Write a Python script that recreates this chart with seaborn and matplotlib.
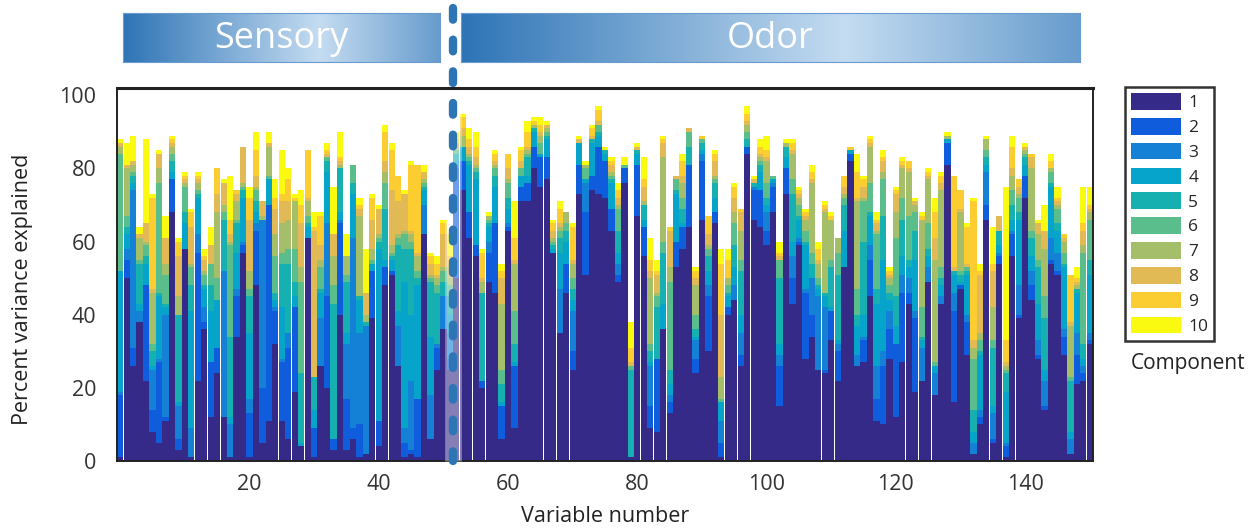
import numpy as np
import pandas as pd
import matplotlib
matplotlib.use("Agg")
import matplotlib.pyplot as plt
import matplotlib.transforms as mtransforms
from matplotlib.patches import Patch
from matplotlib.colors import LinearSegmentedColormap
import seaborn as sns

# variable numbers 0..150, first 52 are sensory, rest odor
variables = list(range(151))
n_sensory = 52

# cumulative percent variance explained after components 1..k
cum_1 = [1, 50, 26, 38, 22, 8, 5, 11, 68, 3,
         58, 1, 22, 36, 12, 24, 12, 1, 34, 57,
         1, 48, 5, 11, 32, 11, 6, 19, 4, 61,
         1, 26, 20, 3, 40, 3, 6, 1, 2, 39,
         4, 48, 51, 26, 1, 2, 1, 62, 6, 25,
         36, 25, 50, 74, 61, 56, 20, 49, 46, 6,
         63, 9, 71, 71, 80, 75, 77, 57, 35, 46,
         25, 73, 51, 74, 73, 72, 63, 49, 76, 1,
         67, 56, 9, 8, 36, 13, 53, 58, 64, 24,
         66, 30, 65, 1, 40, 44, 26, 84, 66, 64,
         59, 68, 15, 73, 43, 59, 28, 34, 25, 24,
         33, 22, 53, 82, 26, 27, 45, 11, 10, 28,
         12, 27, 43, 19, 22, 49, 18, 43, 81, 16,
         47, 29, 2, 10, 66, 5, 54, 1, 56, 39,
         72, 44, 28, 14, 54, 51, 29, 2, 21, 22, 32]
cum_2 = [18, 55, 31, 38, 48, 14, 27, 12, 77, 6,
         58, 1, 57, 38, 27, 31, 12, 1, 45, 59,
         13, 63, 20, 70, 41, 27, 31, 42, 4, 61,
         9, 26, 45, 6, 65, 17, 9, 10, 2, 52,
         11, 53, 52, 26, 5, 3, 17, 62, 6, 31,
         36, 28, 80, 82, 68, 59, 22, 57, 65, 15,
         64, 26, 75, 76, 86, 83, 83, 57, 35, 54,
         30, 81, 68, 78, 86, 82, 69, 51, 80, 1,
         81, 64, 15, 28, 36, 16, 60, 64, 81, 28,
         82, 45, 68, 5, 42, 44, 29, 86, 74, 74,
         63, 75, 26, 80, 50, 60, 46, 40, 25, 25,
         41, 30, 53, 84, 26, 33, 55, 17, 26, 36,
         32, 46, 46, 39, 22, 49, 18, 43, 87, 41,
         48, 38, 2, 12, 70, 6, 56, 4, 62, 40,
         78, 48, 29, 15, 55, 52, 34, 2, 29, 24, 33]
cum_3 = [19, 58, 74, 41, 48, 25, 28, 40, 77, 15,
         58, 9, 62, 42, 27, 31, 52, 10, 47, 60,
         17, 65, 66, 70, 42, 28, 35, 42, 4, 61,
         9, 39, 65, 6, 66, 32, 61, 35, 37, 52,
         11, 53, 52, 37, 9, 22, 17, 70, 18, 32,
         45, 35, 81, 82, 68, 59, 22, 60, 65, 15,
         65, 26, 75, 76, 86, 83, 83, 57, 47, 54,
         41, 81, 76, 78, 86, 82, 69, 54, 80, 1,
         81, 64, 26, 28, 36, 18, 60, 64, 81, 33,
         84, 48, 68, 11, 42, 48, 35, 86, 75, 74,
         68, 76, 29, 80, 56, 61, 47, 50, 45, 42,
         41, 32, 53, 84, 29, 34, 59, 26, 30, 41,
         32, 51, 50, 41, 31, 53, 24, 45, 87, 46,
         48, 40, 5, 14, 79, 13, 57, 5, 63, 48,
         78, 52, 33, 22, 61, 57, 36, 6, 35, 26, 35]
cum_4 = [52, 62, 76, 43, 54, 26, 45, 42, 79, 16,
         65, 41, 72, 47, 41, 44, 52, 12, 57, 72,
         35, 68, 66, 77, 44, 42, 35, 45, 5, 64,
         14, 46, 79, 6, 68, 35, 73, 44, 37, 54,
         58, 55, 55, 41, 49, 40, 48, 74, 34, 32,
         45, 40, 82, 86, 81, 77, 22, 64, 75, 16,
         69, 27, 78, 78, 90, 84, 88, 58, 57, 60,
         44, 87, 77, 87, 89, 84, 76, 57, 80, 1,
         84, 66, 27, 28, 43, 21, 73, 65, 81, 34,
         85, 52, 72, 16, 45, 53, 40, 86, 75, 79,
         70, 77, 32, 83, 60, 66, 59, 50, 47, 45,
         42, 33, 63, 85, 37, 40, 67, 43, 55, 44,
         37, 56, 53, 55, 33, 56, 26, 48, 88, 51,
         49, 51, 8, 29, 81, 15, 59, 19, 66, 66,
         81, 56, 43, 25, 75, 63, 53, 8, 46, 28, 51]
cum_5 = [52, 64, 78, 54, 56, 30, 46, 43, 82, 40,
         68, 48, 73, 48, 48, 44, 66, 34, 65, 74,
         45, 71, 66, 77, 46, 54, 54, 49, 24, 65,
         23, 47, 82, 43, 80, 49, 76, 45, 38, 54,
         60, 69, 56, 59, 58, 58, 50, 75, 49, 46,
         49, 45, 84, 86, 82, 79, 46, 65, 78, 21,
         72, 32, 78, 83, 91, 84, 89, 59, 61, 63,
         47, 87, 77, 88, 90, 85, 77, 63, 80, 25,
         85, 70, 30, 42, 57, 25, 74, 69, 86, 36,
         87, 56, 76, 16, 46, 59, 52, 88, 76, 81,
         72, 77, 50, 86, 73, 67, 60, 54, 48, 46,
         53, 51, 70, 85, 40, 60, 68, 47, 67, 46,
         45, 66, 55, 63, 34, 58, 26, 50, 88, 52,
         51, 52, 14, 30, 83, 31, 63, 24, 70, 68,
         83, 61, 53, 39, 76, 65, 54, 22, 47, 32, 55]
cum_6 = [84, 67, 79, 55, 59, 32, 76, 51, 84, 40,
         75, 53, 74, 51, 54, 50, 68, 59, 66, 75,
         47, 74, 66, 78, 56, 57, 58, 58, 49, 67,
         23, 53, 83, 48, 80, 51, 81, 45, 38, 55,
         61, 76, 57, 61, 62, 60, 52, 76, 50, 48,
         52, 48, 85, 86, 83, 80, 46, 66, 80, 25,
         76, 41, 80, 84, 91, 87, 90, 60, 63, 65,
         50, 87, 80, 88, 92, 85, 78, 69, 81, 26,
         85, 70, 32, 45, 60, 49, 77, 72, 90, 40,
         88, 58, 77, 17, 48, 65, 55, 90, 76, 82,
         76, 78, 55, 86, 77, 70, 63, 57, 50, 46,
         55, 57, 72, 85, 47, 71, 76, 62, 77, 48,
         61, 72, 67, 68, 42, 65, 27, 53, 88, 52,
         52, 53, 28, 33, 85, 33, 63, 25, 74, 72,
         84, 63, 55, 45, 79, 69, 57, 23, 47, 57, 66]
cum_7 = [86, 80, 81, 61, 60, 46, 80, 54, 86, 45,
         76, 54, 76, 52, 54, 68, 70, 60, 71, 76,
         52, 75, 67, 86, 62, 65, 66, 71, 53, 71,
         23, 55, 83, 56, 81, 56, 81, 67, 40, 58,
         62, 79, 59, 62, 63, 62, 56, 77, 51, 50,
         53, 50, 86, 89, 84, 81, 49, 67, 81, 43,
         77, 54, 80, 85, 92, 89, 91, 61, 64, 68,
         54, 87, 81, 88, 92, 85, 79, 70, 81, 26,
         85, 71, 50, 46, 83, 53, 77, 76, 90, 48,
         88, 59, 78, 23, 50, 68, 63, 92, 76, 83,
         82, 78, 55, 87, 84, 72, 66, 76, 54, 68,
         66, 61, 73, 85, 71, 72, 86, 63, 79, 50,
         68, 80, 79, 70, 66, 77, 55, 74, 89, 52,
         68, 53, 31, 35, 88, 42, 63, 26, 78, 73,
         85, 80, 62, 58, 80, 70, 60, 37, 48, 59, 68]
cum_8 = [87, 81, 82, 62, 65, 47, 84, 61, 87, 56,
         77, 64, 77, 55, 59, 73, 76, 62, 73, 86,
         66, 78, 71, 87, 69, 71, 71, 71, 65, 72,
         63, 59, 84, 62, 82, 56, 81, 69, 46, 66,
         69, 82, 74, 71, 73, 63, 57, 79, 54, 51,
         62, 53, 87, 91, 86, 83, 50, 67, 82, 50,
         80, 55, 82, 86, 92, 90, 92, 63, 65, 68,
         55, 88, 81, 89, 93, 85, 81, 72, 81, 27,
         86, 75, 52, 51, 87, 63, 78, 78, 91, 50,
         88, 62, 82, 40, 50, 72, 68, 93, 77, 84,
         83, 78, 56, 87, 85, 73, 67, 77, 55, 69,
         66, 61, 75, 85, 72, 75, 87, 65, 82, 51,
         73, 81, 80, 71, 66, 78, 61, 76, 89, 53,
         69, 54, 33, 51, 88, 52, 67, 27, 80, 75,
         86, 83, 65, 63, 80, 71, 61, 38, 49, 63, 69]
cum_9 = [87, 81, 82, 62, 65, 72, 84, 61, 88, 60,
         78, 68, 78, 56, 59, 80, 76, 66, 74, 86,
         72, 85, 71, 87, 72, 73, 77, 72, 70, 85,
         64, 67, 85, 62, 83, 56, 81, 70, 46, 72,
         69, 90, 85, 78, 73, 81, 81, 79, 56, 54,
         65, 56, 88, 94, 88, 86, 57, 67, 84, 52,
         84, 61, 85, 90, 93, 92, 92, 65, 69, 68,
         64, 88, 81, 91, 96, 85, 82, 74, 81, 31,
         86, 77, 55, 52, 88, 64, 78, 82, 91, 52,
         89, 67, 84, 54, 55, 75, 69, 95, 77, 86,
         85, 78, 57, 87, 87, 74, 68, 79, 58, 70,
         67, 61, 78, 86, 79, 77, 88, 66, 83, 52,
         74, 82, 82, 71, 67, 79, 68, 78, 89, 78,
         74, 64, 71, 52, 88, 54, 67, 33, 86, 77,
         86, 84, 65, 63, 82, 72, 62, 51, 50, 65, 70]
cum_10 = [88, 87, 89, 64, 88, 73, 85, 67, 89, 61,
          79, 69, 79, 58, 64, 80, 77, 78, 74, 86,
          75, 90, 71, 90, 77, 85, 80, 73, 74, 85,
          68, 68, 87, 75, 90, 62, 81, 72, 58, 73,
          70, 92, 87, 78, 74, 82, 81, 81, 57, 56,
          66, 62, 90, 95, 91, 90, 58, 68, 85, 54,
          84, 71, 86, 93, 94, 94, 93, 66, 71, 68,
          65, 89, 82, 92, 97, 86, 83, 76, 83, 38,
          87, 83, 61, 55, 89, 64, 78, 84, 91, 53,
          89, 67, 85, 58, 58, 76, 69, 97, 78, 88,
          89, 78, 60, 88, 88, 75, 69, 81, 60, 71,
          68, 61, 78, 86, 84, 78, 89, 68, 85, 53,
          75, 83, 82, 72, 68, 80, 72, 79, 90, 78,
          74, 65, 72, 54, 89, 64, 67, 75, 89, 77,
          87, 84, 66, 70, 84, 75, 62, 51, 53, 75, 75]

component_labels = ["1", "2", "3", "4", "5", "6", "7", "8", "9", "10"]
component_colors = ["#352a87", "#0f5cdd", "#1481d6", "#06a4ca", "#17b0b0",
                    "#59bd8c", "#a5be6a", "#e1b955", "#fccd30", "#f9fa10"]
cum_tops = [cum_1, cum_2, cum_3, cum_4, cum_5, cum_6, cum_7, cum_8, cum_9, cum_10]

sns.set_style("white")
plt.rcParams['font.family'] = ['Open Sans', 'DejaVu Sans']

W, H = 1258, 528
fig = plt.figure(figsize=(W / 100, H / 100), dpi=100)
ax = fig.add_axes([117 / W, 1 - 461 / H, 976 / W, 373 / H])

# draw the stack from the top: each component bar covers the ones before it
df = pd.DataFrame({"variable": variables})
for k in range(9, -1, -1):
    df["top"] = cum_tops[k]
    sns.barplot(data=df, x="variable", y="top", color=component_colors[k],
                saturation=1, width=0.97, linewidth=0, errorbar=None, ax=ax)

ax.set_xlim(-0.5, 150.5)
ax.set_ylim(0, 102)
ax.set_xticks([20, 40, 60, 80, 100, 120, 140])
ax.set_xticklabels(["20", "40", "60", "80", "100", "120", "140"])
ax.set_yticks([0, 20, 40, 60, 80, 100])
ax.tick_params(length=0, labelsize=15.5, colors="#333333")
ax.tick_params(axis="x", pad=9)
ax.tick_params(axis="y", pad=15)
ax.set_xlabel("Variable number", fontsize=15.5, color="#222222", labelpad=8)
ax.set_ylabel("Percent variance explained", fontsize=15.5, color="#222222", labelpad=14)
ax.yaxis.set_label_coords(-0.086, 0.46)
for s in ax.spines.values():
    s.set_visible(True)
    s.set_color("#222222")
    s.set_linewidth(1.4)
ax.spines["top"].set_linewidth(2.2)

# separator between sensory and odor variables
trans = mtransforms.blended_transform_factory(ax.transData, fig.transFigure)
xb = n_sensory - 0.5
ax.plot([xb, xb], [1 - 461 / H, 1 - 90 / H], transform=trans, color="white",
        lw=12, alpha=0.4, clip_on=False, zorder=5, solid_capstyle="butt")
ax.plot([xb, xb], [1 - 8 / H, 1 - 461 / H], transform=trans, color="#2e75b6",
        lw=6, dashes=(1.4, 2.4), dash_capstyle="round", clip_on=False, zorder=6)

# gradient header boxes
grad_cmap = LinearSegmentedColormap.from_list("hdr", ["#2e74b6", "#c4dcf1"])
xs = np.linspace(0, 1, 400)
for left, right, label in [(123, 440, "Sensory"), (461, 1080, "Odor")]:
    bax = fig.add_axes([left / W, 1 - 62 / H, (right - left) / W, 49 / H])
    c = 0.62
    prof = 1 - np.abs(xs - c) / max(c, 1 - c)
    bax.imshow(prof[None, :], aspect="auto", cmap=grad_cmap, vmin=0, vmax=1,
               extent=[0, 1, 0, 1])
    bax.set_xlim(0, 1)
    bax.set_ylim(0, 1)
    bax.set_xticks([])
    bax.set_yticks([])
    for s in bax.spines.values():
        s.set_color("#6a9bd0")
        s.set_linewidth(0.8)
    bax.text(0.5, 0.47, label, color="white", fontsize=26, ha="center", va="center")

# legend
handles = [Patch(facecolor=component_colors[i], edgecolor="none") for i in range(10)]
leg = fig.legend(handles, component_labels, loc="upper left",
                 bbox_to_anchor=(1125 / W, 1 - 87 / H), frameon=True, fancybox=False,
                 edgecolor="black", fontsize=12.5, handlelength=2.9, handleheight=1.1,
                 labelspacing=0.38, borderpad=0.35, handletextpad=0.4, borderaxespad=0)
leg.get_frame().set_linewidth(1.8)
fig.text(1188 / W, 1 - 364 / H, "Component", ha="center", va="center", fontsize=15,
         color="#222222")

fig.savefig("out.png", dpi=100)
